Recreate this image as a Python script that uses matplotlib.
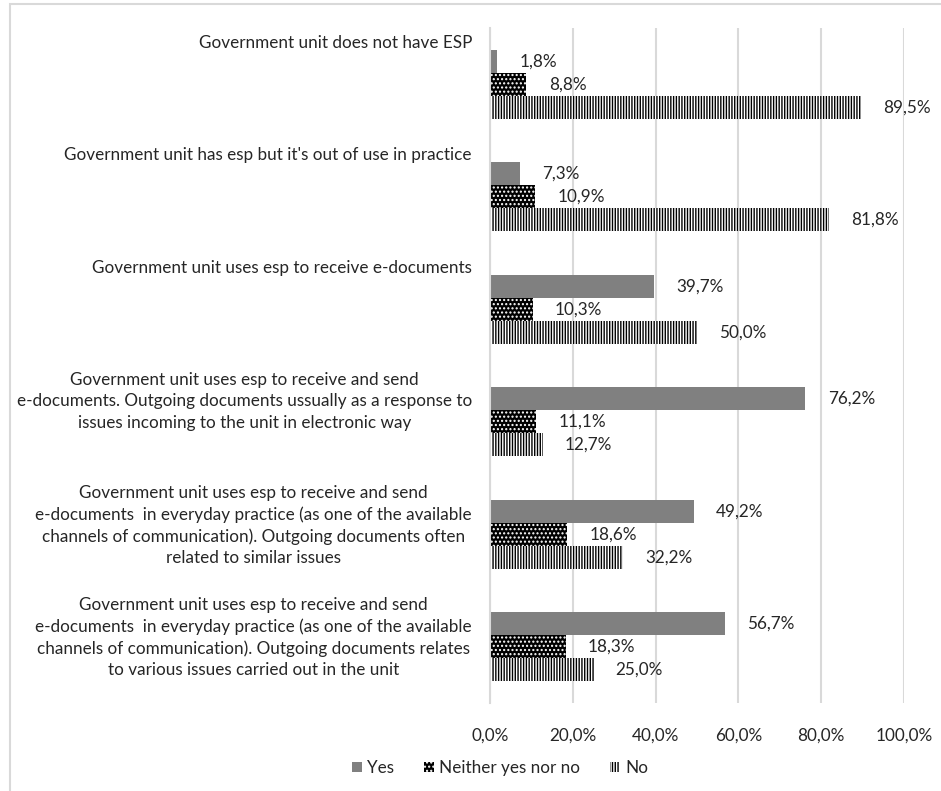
import numpy as np
import matplotlib.pyplot as plt
from matplotlib.patches import Rectangle

plt.rcParams['font.family'] = ['Lato', 'DejaVu Sans']
plt.rcParams['hatch.linewidth'] = 1.0

categories = [
    "Government unit does not have ESP",
    "Government unit has esp but it's out of use in practice",
    "Government unit uses esp to receive e-documents",
    "Government unit uses esp to receive and send\n"
    "e-documents. Outgoing documents ussually as a response to\n"
    "issues incoming to the unit in electronic way",
    "Government unit uses esp to receive and send\n"
    "e-documents  in everyday practice (as one of the available\n"
    "channels of communication). Outgoing documents often\n"
    "related to similar issues",
    "Government unit uses esp to receive and send\n"
    "e-documents  in everyday practice (as one of the available\n"
    "channels of communication). Outgoing documents relates\n"
    "to various issues carried out in the unit",
]
yes = [1.8, 7.3, 39.7, 76.2, 49.2, 56.7]
neither = [8.8, 10.9, 10.3, 11.1, 18.6, 18.3]
no = [89.5, 81.8, 50.0, 12.7, 32.2, 25.0]
series_names = ["Yes", "Neither yes nor no", "No"]
x_ticks = [0, 20, 40, 60, 80, 100]

W, H = 941, 791
fig = plt.figure(figsize=(W / 100, H / 100), dpi=100)
ax = fig.add_axes([490 / W, 1 - 703 / H, 414 / W, 675 / H])

# outer chart border
fig.patches.append(Rectangle((10 / W, -0.1), 2, 1.1 - 4 / H, transform=fig.transFigure,
                             fill=False, edgecolor='#d9d9d9', linewidth=1.5))

y = np.arange(len(categories))
h = 0.205
styles = [
    dict(color='#808080', linewidth=0),
    dict(facecolor='black', edgecolor='white', hatch='....', linewidth=0),
    dict(facecolor='white', edgecolor='black', hatch='||||||', linewidth=0),
]
fs = 12.3
for k, (vals, st) in enumerate(zip([yes, neither, no], styles)):
    bars = ax.barh(y + (k - 1) * h, vals, height=h, label=series_names[k], **st)
    ax.bar_label(bars, labels=[f"{v:.1f}%".replace('.', ',') for v in vals],
                 padding=16, fontsize=fs, color='#262626')

ax.set_xlim(0, 100)
ax.set_ylim(len(categories) - 0.5, -0.5)
ax.set_xticks(x_ticks)
ax.set_xticklabels([f"{t:.1f}%".replace('.', ',') for t in x_ticks], fontsize=fs, color='#262626')
ax.set_yticks([])
ax.tick_params(axis='x', length=0, pad=18)
ax.grid(axis='x', color='#d9d9d9', linewidth=1.5)
ax.set_axisbelow(True)
for s in ['top', 'right', 'bottom']:
    ax.spines[s].set_visible(False)
ax.spines['left'].set_color('#d9d9d9')
ax.spines['left'].set_linewidth(1.5)

# category labels sit at the top of each band, lines centred
for i, lab in enumerate(categories):
    ax.text(-0.0435, i - 0.44, lab, transform=ax.get_yaxis_transform(),
            ha='right', va='top', multialignment='center', fontsize=fs,
            color='#262626', linespacing=1.4)

fig.legend(loc='center', bbox_to_anchor=(500 / W, 1 - 768 / H), ncol=3, frameon=False,
           fontsize=fs, handlelength=0.6, handleheight=0.6, handletextpad=0.3,
           columnspacing=1.75, labelcolor='#262626')

fig.savefig('out.png', dpi=100)
